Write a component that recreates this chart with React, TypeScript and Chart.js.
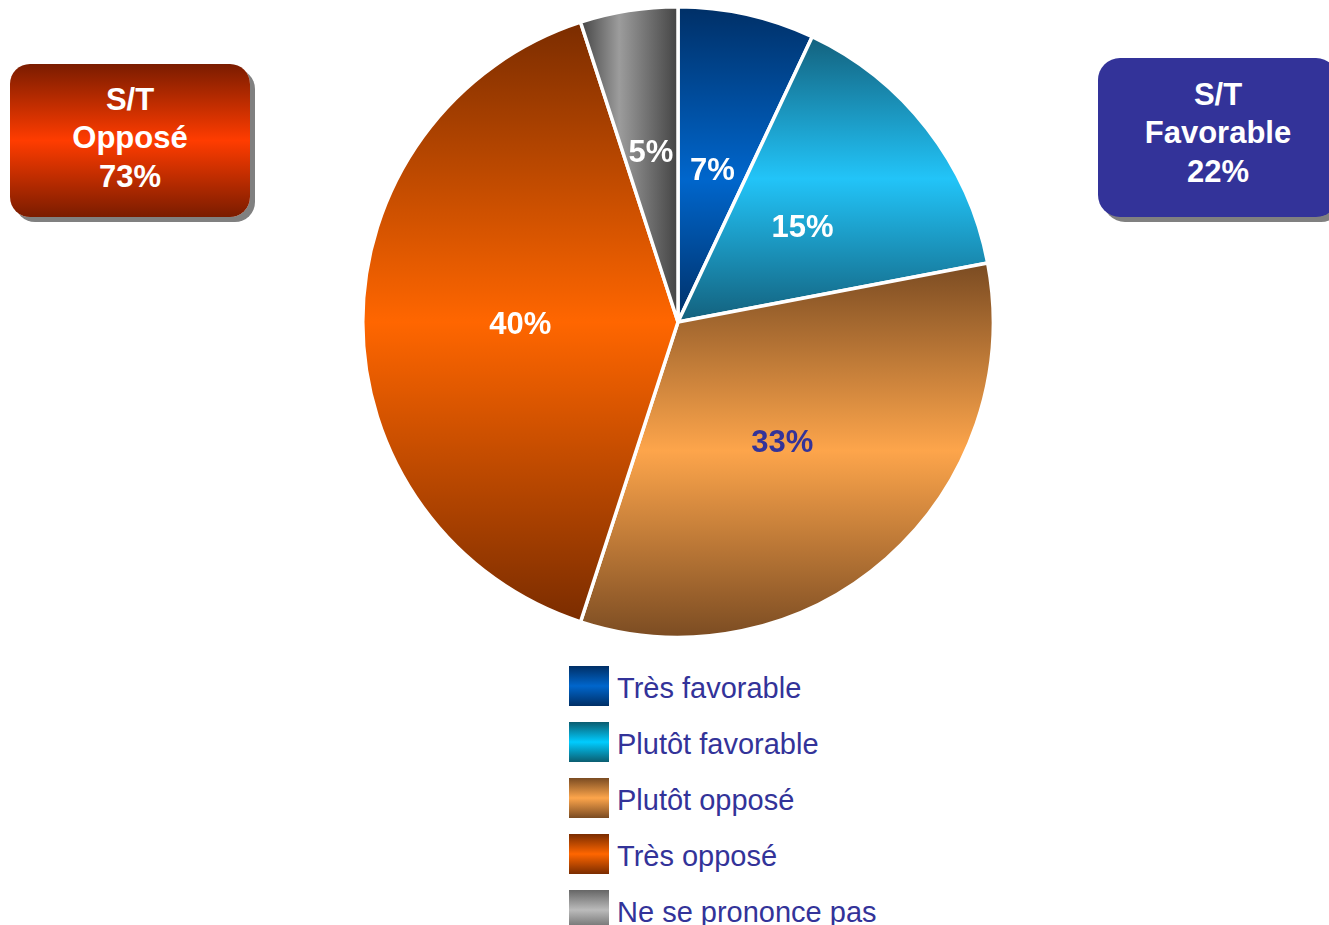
import React, { useEffect, useRef } from 'react';
import { Chart, registerables } from 'chart.js';

Chart.register(...registerables);

const categories = ['Très favorable', 'Plutôt favorable', 'Plutôt opposé', 'Très opposé', 'Ne se prononce pas'];
const values = [7, 15, 33, 40, 5];
const valueLabels = ['7%', '15%', '33%', '40%', '5%'];
const summaryOpposed = ['S/T', 'Opposé', '73%'];
const summaryFavorable = ['S/T', 'Favorable', '22%'];

const sliceEdge = ['#002f66', '#13607c', '#7a4b22', '#7a2c00', '#444444'];
const sliceMid = ['#0066cc', '#22c4f8', '#fda54b', '#ff6600', '#9c9c9c'];
const sliceMidStop = [0.55, 0.5, 0.5, 0.5, 0.4];
const gradientAxis = ['y', 'y', 'y', 'y', 'x'];
const labelColors = ['#ffffff', '#ffffff', '#333399', '#ffffff', '#ffffff'];
const legendEdge = ['#002f66', '#0b5d70', '#7a4b22', '#7a2c00', '#666666'];
const legendMid = ['#0066cc', '#00ccff', '#fda54b', '#ff6600', '#bbbbbb'];

const FONT = '"Liberation Sans", Arial, Helvetica, sans-serif';

function sliceGradient(ctx: any) {
  const i = ctx.dataIndex;
  const chart = ctx.chart;
  const area = chart.chartArea;
  if (i === undefined || !area) return sliceMid[i ?? 0];
  const total = values.reduce((a, b) => a + b, 0);
  let cum = 0;
  for (let k = 0; k < i; k++) cum += values[k];
  const a0 = (cum / total) * Math.PI * 2;
  const a1 = ((cum + values[i]) / total) * Math.PI * 2;
  const cx = (area.left + area.right) / 2;
  const cy = (area.top + area.bottom) / 2;
  const r = Math.min(area.width, area.height) / 2;
  const pts: number[][] = [
    [cx, cy],
    [cx + r * Math.sin(a0), cy - r * Math.cos(a0)],
    [cx + r * Math.sin(a1), cy - r * Math.cos(a1)],
  ];
  for (let q = 0; q <= 4; q++) {
    const a = (q * Math.PI) / 2;
    if (a > a0 && a < a1) pts.push([cx + r * Math.sin(a), cy - r * Math.cos(a)]);
  }
  const xs = pts.map((p) => p[0]);
  const ys = pts.map((p) => p[1]);
  const c = chart.ctx as CanvasRenderingContext2D;
  const g =
    gradientAxis[i] === 'x'
      ? c.createLinearGradient(Math.min(...xs), 0, Math.max(...xs), 0)
      : c.createLinearGradient(0, Math.min(...ys), 0, Math.max(...ys));
  g.addColorStop(0, sliceEdge[i]);
  g.addColorStop(sliceMidStop[i], sliceMid[i]);
  g.addColorStop(1, sliceEdge[i]);
  return g;
}

const labelPlugin = {
  id: 'sliceLabels',
  afterDatasetsDraw(chart: any) {
    const meta = chart.getDatasetMeta(0);
    const c = chart.ctx as CanvasRenderingContext2D;
    c.save();
    c.font = `bold 31px ${FONT}`;
    c.textAlign = 'center';
    c.textBaseline = 'middle';
    meta.data.forEach((arc: any, i: number) => {
      const { x, y, startAngle, endAngle, outerRadius } = arc.getProps(
        ['x', 'y', 'startAngle', 'endAngle', 'outerRadius'],
        true
      );
      const mid = (startAngle + endAngle) / 2;
      const d = outerRadius * (values[i] < 6 ? 0.55 : 0.5);
      c.fillStyle = labelColors[i];
      c.fillText(valueLabels[i], x + Math.cos(mid) * d, y + Math.sin(mid) * d + 3);
    });
    c.restore();
  },
};

function SummaryBox(props: { lines: string[]; style: React.CSSProperties }) {
  return (
    <div
      style={{
        position: 'absolute',
        display: 'flex',
        flexDirection: 'column',
        alignItems: 'center',
        justifyContent: 'center',
        color: '#ffffff',
        fontFamily: FONT,
        fontWeight: 'bold',
        fontSize: 31,
        lineHeight: '38.5px',
        boxShadow: '5px 5px 0 #808080',
        ...props.style,
      }}
    >
      {props.lines.map((l, k) => (
        <div key={k}>{l}</div>
      ))}
    </div>
  );
}

export default function App() {
  const canvasRef = useRef<HTMLCanvasElement | null>(null);

  useEffect(() => {
    if (!canvasRef.current) return;
    const chart = new Chart(canvasRef.current, {
      type: 'pie',
      data: {
        labels: categories,
        datasets: [
          {
            data: values,
            backgroundColor: sliceGradient as any,
            borderColor: '#ffffff',
            borderWidth: 3.5,
          },
        ],
      },
      options: {
        animation: false,
        responsive: false,
        layout: { padding: 0 },
        plugins: {
          legend: { display: false },
          tooltip: { enabled: false },
        },
      },
      plugins: [labelPlugin],
    });
    return () => chart.destroy();
  }, []);

  return (
    <div
      style={{
        position: 'absolute',
        left: 0,
        top: 0,
        width: 1329,
        height: 925,
        overflow: 'hidden',
        background: '#ffffff',
      }}
    >
      <canvas
        ref={canvasRef}
        width={634}
        height={634}
        style={{ position: 'absolute', left: 361, top: 5, width: 634, height: 634 }}
      />
      <SummaryBox
        lines={summaryOpposed}
        style={{
          left: 10,
          top: 64,
          width: 240,
          height: 153,
          borderRadius: 20,
          paddingBottom: 4,
          boxSizing: 'border-box',
          background: 'linear-gradient(to bottom, #7a1c00 0%, #ff3c00 50%, #7a1c00 100%)',
        }}
      />
      <SummaryBox
        lines={summaryFavorable}
        style={{
          left: 1098,
          top: 58,
          width: 240,
          height: 159,
          borderRadius: 22,
          paddingBottom: 8,
          boxSizing: 'border-box',
          background: '#333399',
        }}
      />
      {categories.map((name, i) => (
        <div
          key={name}
          style={{
            position: 'absolute',
            left: 569,
            top: 666 + i * 56,
            height: 40,
            display: 'flex',
            alignItems: 'center',
            whiteSpace: 'nowrap',
          }}
        >
          <div
            style={{
              width: 40,
              height: 40,
              background: `linear-gradient(to bottom, ${legendEdge[i]} 0%, ${legendMid[i]} 50%, ${legendEdge[i]} 100%)`,
            }}
          />
          <span
            style={{
              marginLeft: 8,
              marginTop: 4,
              fontFamily: FONT,
              fontSize: 29,
              color: '#333399',
              lineHeight: '40px',
            }}
          >
            {name}
          </span>
        </div>
      ))}
    </div>
  );
}
